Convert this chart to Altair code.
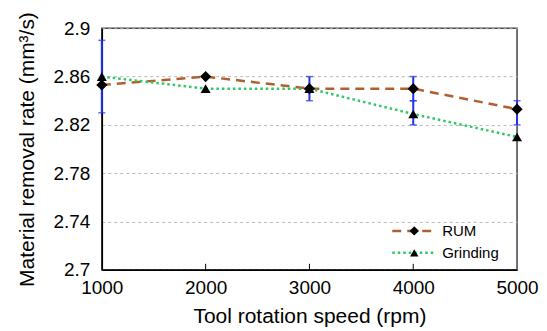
import altair as alt
import pandas as pd

# ---- data ----
speeds = [1000, 2000, 3000, 4000, 5000]
rum = [2.853, 2.860, 2.850, 2.850, 2.833]
grinding = [2.860, 2.850, 2.850, 2.829, 2.810]
series_names = ["RUM", "Grinding"]

err_x = [1000, 3000, 4000, 4000, 5000]
err_low = [2.830, 2.840, 2.840, 2.820, 2.820]
err_high = [2.890, 2.860, 2.860, 2.840, 2.840]

x_ticks = [1000, 2000, 3000, 4000, 5000]
y_ticks = [2.7, 2.74, 2.78, 2.82, 2.86, 2.9]

# ---- styling ----
FONT = "Liberation Sans"
COL_RUM = "#b0602e"
COL_GR = "#2ec866"
COL_ERR = "#2233ee"
DASH_RUM = [9, 6]
DASH_GR = [2.5, 3]
W, H = 416, 242

df = pd.DataFrame({
    "speed": speeds * 2,
    "rate": rum + grinding,
    "series": [series_names[0]] * len(speeds) + [series_names[1]] * len(speeds),
})
err_df = pd.DataFrame({"speed": err_x, "low": err_low, "high": err_high})
tick_df = pd.DataFrame({"speed": x_ticks[1:-1]})

xscale = alt.Scale(domain=[x_ticks[0], x_ticks[-1]], nice=False, zero=False)
yscale = alt.Scale(domain=[y_ticks[0], y_ticks[-1]], nice=False, zero=False)

xaxis = alt.Axis(values=x_ticks, title="Tool rotation speed (rpm)", grid=False,
                 ticks=False, labelPadding=9, titlePadding=8, format="d",
                 labelFlush=False, labelFontSize=19, titleFontSize=21)
yaxis = alt.Axis(values=y_ticks, title="Material removal rate (mm³/s)", grid=True,
                 ticks=False, labelPadding=12, titlePadding=15, format="~g",
                 labelFlush=False, labelFontSize=19, titleFontSize=21,
                 gridColor="#b8b8b8", gridDash=[3, 3], gridWidth=1)

base = alt.Chart(df)

lines = base.mark_line(strokeWidth=2.5).encode(
    x=alt.X("speed:Q", scale=xscale, axis=xaxis),
    y=alt.Y("rate:Q", scale=yscale, axis=yaxis),
    color=alt.Color("series:N", scale=alt.Scale(domain=series_names, range=[COL_RUM, COL_GR]), legend=None),
    strokeDash=alt.StrokeDash("series:N", scale=alt.Scale(domain=series_names, range=[DASH_RUM, DASH_GR]), legend=None),
    detail="series:N",
)

err_rules = alt.Chart(err_df).mark_rule(color=COL_ERR, strokeWidth=2).encode(
    x="speed:Q", y="low:Q", y2="high:Q")
caps_low = alt.Chart(err_df).mark_tick(color=COL_ERR, orient="horizontal", size=7, thickness=1.5).encode(
    x="speed:Q", y="low:Q")
caps_high = alt.Chart(err_df).mark_tick(color=COL_ERR, orient="horizontal", size=7, thickness=1.5).encode(
    x="speed:Q", y="high:Q")

points = base.mark_point(filled=True, color="black", opacity=1).encode(
    x="speed:Q", y="rate:Q",
    shape=alt.Shape("series:N", scale=alt.Scale(domain=series_names, range=["diamond", "triangle-up"]), legend=None),
    size=alt.Size("series:N", scale=alt.Scale(domain=series_names, range=[125, 100]), legend=None),
)

inner_ticks = alt.Chart(tick_df).mark_rule(color="black", strokeWidth=1).encode(
    x="speed:Q", y=alt.value(H), y2=alt.value(H - 6))

# ---- manual legend ----
def legend_entry(name, color, dash, shape, size, ypix):
    d = pd.DataFrame({"series": [name]})
    c = alt.Chart(d)
    ln = c.mark_rule(color=color, strokeWidth=2.5, strokeDash=dash).encode(
        x=alt.value(291), x2=alt.value(335), y=alt.value(ypix))
    pt = c.mark_point(filled=True, color="black", opacity=1, shape=shape, size=size).encode(
        x=alt.value(313), y=alt.value(ypix))
    tx = c.mark_text(align="left", baseline="middle", font=FONT, fontSize=15, color="black").encode(
        x=alt.value(341), y=alt.value(ypix), text="series:N")
    return [ln, pt, tx]

leg = legend_entry(series_names[0], COL_RUM, DASH_RUM, "diamond", 90, 203) + \
      legend_entry(series_names[1], COL_GR, DASH_GR, "triangle-up", 70, 225)

chart = alt.layer(lines, inner_ticks, err_rules, caps_low, caps_high, points, *leg).properties(
    width=W, height=H,
    autosize=alt.AutoSizeParams(type="none"),
    padding={"left": 94, "top": 20, "right": 22, "bottom": 58},
).configure_view(
    stroke="#444444", strokeWidth=1.5
).configure_axis(
    labelFont=FONT, titleFont=FONT, labelColor="black", titleColor="black",
    titleFontWeight="normal", domainColor="black", domainWidth=1.5,
)

chart.save("out.html", embed_options={"renderer": "svg", "actions": False})
